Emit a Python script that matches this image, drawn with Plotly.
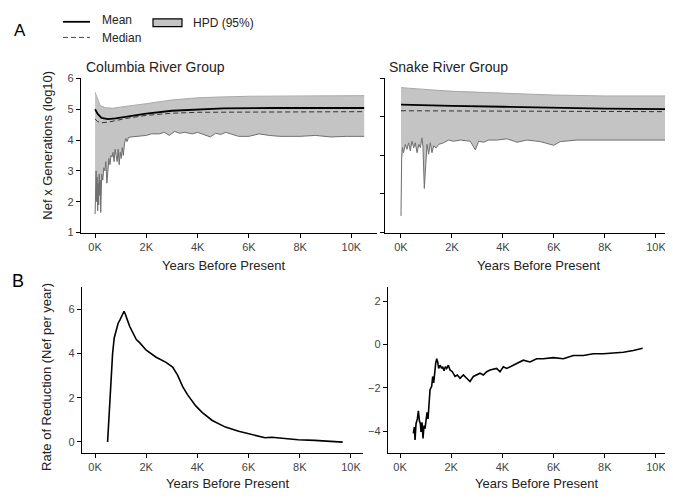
import plotly.graph_objects as go

# ---------------- data ----------------
# Panel A, Columbia River Group (years before present, log10 Nef x generations)
col_low_x = [0, 20, 40, 60, 80, 100, 120, 140, 160, 180, 200, 220, 240, 260, 300, 340, 380, 420, 460, 500,
             540, 580, 620, 660, 700, 740, 780, 820, 860, 900, 940, 980, 1020, 1060, 1100, 1150, 1200, 1250,
             1300, 1400, 1600, 1800, 2000, 2200, 2500, 2700, 2900, 3100, 3300, 3500, 3800, 4000, 4200, 4500,
             4700, 4900, 5100, 5300, 5600, 6000, 6400, 6800, 7200, 7600, 8000, 8600, 9200, 9800, 10500]
col_low_y = [1.6, 2.5, 3.0, 2.0, 2.8, 1.7, 2.6, 1.9, 2.9, 2.2, 2.7, 1.65, 2.6, 2.9, 2.7, 3.1, 3.0, 3.3, 2.6, 3.2,
             3.4, 3.2, 3.5, 3.45, 3.6, 3.3, 3.7, 3.5, 3.3, 3.7, 3.2, 3.6, 3.4, 3.75, 3.5, 3.9, 4.05, 3.95,
             4.08, 4.1, 4.12, 4.15, 4.15, 4.2, 4.2, 4.25, 4.15, 4.28, 4.22, 4.25, 4.2, 4.25, 4.2, 4.1,
             4.22, 4.18, 4.25, 4.2, 4.12, 4.12, 4.2, 4.15, 4.12, 4.12, 4.12, 4.15, 4.1, 4.12, 4.12]
col_up_x = [0, 100, 200, 400, 700, 1000, 1500, 2000, 3000, 4000, 5000, 6000, 8000, 10500]
col_up_y = [5.55, 5.3, 5.12, 5.05, 5.03, 5.07, 5.12, 5.18, 5.3, 5.37, 5.4, 5.42, 5.43, 5.44]
col_mean_x = [0, 100, 250, 500, 800, 1200, 2000, 3000, 4000, 5000, 7000, 10500]
col_mean_y = [5.0, 4.85, 4.72, 4.68, 4.7, 4.76, 4.86, 4.95, 5.0, 5.03, 5.04, 5.04]
col_med_x = [0, 100, 250, 500, 800, 1200, 2000, 3000, 4000, 6000, 10500]
col_med_y = [4.68, 4.6, 4.56, 4.58, 4.63, 4.7, 4.8, 4.87, 4.9, 4.91, 4.92]

# Panel A, Snake River Group
snk_low_x = [0, 25, 60, 100, 170, 235, 300, 366, 430, 500, 560, 630, 700, 760, 820, 860, 915, 965, 1020,
             1085, 1150, 1215, 1280, 1380, 1480, 1670, 1870, 2065, 2330, 2720, 2915, 3045, 3240, 3440, 3770,
             4160, 4550, 4940, 5460, 5990, 6250, 6900, 8200, 10500]
snk_low_y = [1.54, 3.38, 3.75, 3.59, 3.86, 3.7, 3.91, 3.65, 3.96, 3.75, 3.91, 3.59, 3.86, 3.75, 4.07, 3.81,
             2.43, 3.28, 3.86, 3.54, 3.91, 3.59, 3.81, 3.75, 3.86, 3.91, 4.0, 3.96, 4.0, 3.96, 3.68, 3.96,
             3.93, 4.0, 4.0, 4.04, 3.93, 4.0, 3.95, 3.83, 3.95, 4.0, 4.0, 4.0]
snk_up_x = [0, 1000, 2000, 4000, 6000, 8000, 10500]
snk_up_y = [5.7, 5.63, 5.58, 5.52, 5.46, 5.43, 5.43]
snk_mean_x = [0, 1000, 2000, 4000, 6000, 8000, 10500]
snk_mean_y = [5.15, 5.12, 5.11, 5.08, 5.04, 5.02, 5.0]
snk_med_x = [0, 2000, 5000, 8000, 10500]
snk_med_y = [4.95, 4.94, 4.93, 4.92, 4.92]

# Panel B, rate of reduction (Nef per year)
col_rate_x = [490, 555, 620, 684, 748, 839, 903, 968, 1032, 1097, 1135, 1187, 1226, 1265, 1355, 1484, 1613,
              1742, 2000, 2387, 2774, 3031, 3225, 3419, 3612, 3935, 4193, 4580, 5096, 5612, 6128, 6644,
              6902, 7289, 7935, 8580, 9225, 9677]
col_rate_y = [0, 1.33, 2.8, 3.97, 4.7, 5.15, 5.37, 5.51, 5.66, 5.85, 5.91, 5.76, 5.56, 5.51, 5.22, 4.93, 4.63,
              4.49, 4.15, 3.83, 3.6, 3.39, 3.02, 2.51, 2.14, 1.63, 1.33, 0.97, 0.67, 0.48, 0.34, 0.19,
              0.21, 0.16, 0.10, 0.07, 0.04, -0.01]
snk_rate_x = [521, 560, 586, 625, 677, 716, 755, 794, 820, 859, 898, 937, 976, 1016, 1055, 1094, 1133, 1172,
              1237, 1276, 1315, 1354, 1393, 1432, 1471, 1510, 1562, 1627, 1666, 1718, 1771, 1823, 1888, 1953,
              2044, 2148, 2239, 2344, 2474, 2604, 2734, 2864, 2995, 3125, 3255, 3385, 3515, 3646, 3776, 3906,
              4036, 4166, 4296, 4557, 4817, 5077, 5338, 5598, 5989, 6380, 6770, 7161, 7552, 7943, 8333, 8724,
              9115, 9480]
snk_rate_y = [-4.1, -3.8, -4.4, -3.65, -3.43, -3.05, -3.5, -3.65, -4.03, -3.58, -4.33, -3.73, -3.88, -3.35,
              -3.13, -3.43, -2.9, -2.08, -1.92, -1.47, -1.77, -1.17, -0.87, -0.65, -0.8, -1.1, -0.95, -1.1,
              -1.02, -1.2, -1.02, -1.1, -0.95, -1.17, -1.25, -1.47, -1.4, -1.55, -1.4, -1.55, -1.7, -1.47,
              -1.4, -1.32, -1.4, -1.25, -1.17, -1.14, -1.1, -1.25, -1.02, -1.1, -1.02, -0.87, -0.72, -0.8,
              -0.65, -0.65, -0.6, -0.65, -0.5, -0.5, -0.42, -0.42, -0.39, -0.35, -0.27, -0.17]

x_tickvals = [0, 2000, 4000, 6000, 8000, 10000]
x_ticktext = ["0K", "2K", "4K", "6K", "8K", "10K"]
a_tickvals = [1, 2, 3, 4, 5, 6]
a_right_tickvals = [1, 2.25, 3.5, 4.75, 6]
b_left_tickvals = [0, 2, 4, 6]
b_right_tickvals = [-4, -2, 0, 2]

# ---------------- styling ----------------
OFF = 8  # page body margin
W, H = 673 - OFF, 499 - OFF
FONT = "Liberation Sans, Arial, sans-serif"
FILL = "#c4c4c4"
LOWEDGE = "#6f6f6f"
UPEDGE = "#a8a8a8"


def px(p):
    return (p - OFF) / W


def py(p):
    return 1 - (p - OFF) / H


fig = go.Figure()


def hpd(xa, ya, lx, ly, ux, uy, mx, my, dx, dy):
    fig.add_trace(go.Scatter(x=lx + ux[::-1], y=ly + uy[::-1], fill="toself", fillcolor=FILL,
                             line=dict(width=0), mode="lines", xaxis=xa, yaxis=ya, hoverinfo="skip"))
    fig.add_trace(go.Scatter(x=ux, y=uy, mode="lines", line=dict(color=UPEDGE, width=1),
                             xaxis=xa, yaxis=ya))
    fig.add_trace(go.Scatter(x=lx, y=ly, mode="lines", line=dict(color=LOWEDGE, width=1),
                             xaxis=xa, yaxis=ya))
    fig.add_trace(go.Scatter(x=dx, y=dy, mode="lines", line=dict(color="#333333", width=1, dash="5px,3px"),
                             xaxis=xa, yaxis=ya))
    fig.add_trace(go.Scatter(x=mx, y=my, mode="lines", line=dict(color="#000000", width=1.8),
                             xaxis=xa, yaxis=ya))


hpd("x", "y", col_low_x, col_low_y, col_up_x, col_up_y, col_mean_x, col_mean_y, col_med_x, col_med_y)
hpd("x2", "y2", snk_low_x, snk_low_y, snk_up_x, snk_up_y, snk_mean_x, snk_mean_y, snk_med_x, snk_med_y)
fig.add_trace(go.Scatter(x=col_rate_x, y=col_rate_y, mode="lines", line=dict(color="#000", width=1.6),
                         xaxis="x3", yaxis="y3"))
fig.add_trace(go.Scatter(x=snk_rate_x, y=snk_rate_y, mode="lines", line=dict(color="#000", width=1.6),
                         xaxis="x4", yaxis="y4"))

axis_common = dict(showline=True, linecolor="#000", linewidth=1.4, ticks="outside", ticklen=4,
                   tickcolor="#000", tickwidth=1.2, showgrid=False, zeroline=False,
                   tickfont=dict(family=FONT, size=11, color="#444"), fixedrange=True)

fig.update_layout(
    width=W, height=H, margin=dict(l=0, r=0, t=0, b=0),
    paper_bgcolor="white", plot_bgcolor="white", showlegend=False,
    xaxis=dict(domain=[px(81), px(377)], range=[-550, 11000], anchor="y",
               tickvals=x_tickvals, ticktext=x_ticktext, **axis_common),
    yaxis=dict(domain=[py(232), py(74)], range=[1, 6], anchor="x", tickvals=a_tickvals, **axis_common),
    xaxis2=dict(domain=[px(385), px(673)], range=[-627, 10667], anchor="y2",
                tickvals=x_tickvals, ticktext=x_ticktext, **axis_common),
    yaxis2=dict(domain=[py(232), py(74)], range=[1, 6], anchor="x2", tickvals=a_right_tickvals,
                showticklabels=False, **axis_common),
    xaxis3=dict(domain=[px(82), px(363)], range=[-510, 10470], anchor="y3",
                tickvals=x_tickvals, ticktext=x_ticktext, **axis_common),
    yaxis3=dict(domain=[py(458), py(288)], range=[-0.5, 7.0], anchor="x3", tickvals=b_left_tickvals,
                **axis_common),
    xaxis4=dict(domain=[px(388), px(667)], range=[-470, 10430], anchor="y4",
                tickvals=x_tickvals, ticktext=x_ticktext, **axis_common),
    yaxis4=dict(domain=[py(458), py(288)], range=[-5, 2.65], anchor="x4", tickvals=b_right_tickvals,
                **axis_common),
)

ann = []


def text(x, y, s, size, angle=0, color="#222", xanchor="center"):
    ann.append(dict(x=px(x), y=py(y), xref="paper", yref="paper", text=s, showarrow=False,
                    font=dict(family=FONT, size=size, color=color), textangle=angle,
                    xanchor=xanchor, yanchor="middle"))


text(20, 25, "A", 17, color="#000")
text(18, 282, "B", 18, color="#000")
text(100, 14, "Mean", 12, xanchor="left")
text(100, 33, "Median", 12, xanchor="left")
text(191, 17, "HPD (95%)", 12, xanchor="left")
text(155, 62, "Columbia River Group", 14)
text(448, 62, "Snake River Group", 14)
text(48, 143, "Nef x Generations (log10)", 13, angle=-90)
text(47, 380, "Rate of Reduction (Nef per year)", 13, angle=-90)
text(223, 266, "Years Before Present", 13)
text(538, 266, "Years Before Present", 13)
text(227, 489, "Years Before Present", 13)
text(536, 489, "Years Before Present", 13)
fig.update_layout(annotations=ann)

fig.update_layout(shapes=[
    dict(type="line", xref="paper", yref="paper", x0=px(63), x1=px(90), y0=py(16), y1=py(16),
         line=dict(color="#000", width=1.8)),
    dict(type="line", xref="paper", yref="paper", x0=px(63), x1=px(90), y0=py(32), y1=py(32),
         line=dict(color="#444", width=1, dash="5px,3px")),
    dict(type="rect", xref="paper", yref="paper", x0=px(153), x1=px(182), y0=py(21), y1=py(13),
         fillcolor=FILL, line=dict(color="#000", width=1.2)),
])

fig.write_html("out.html")
